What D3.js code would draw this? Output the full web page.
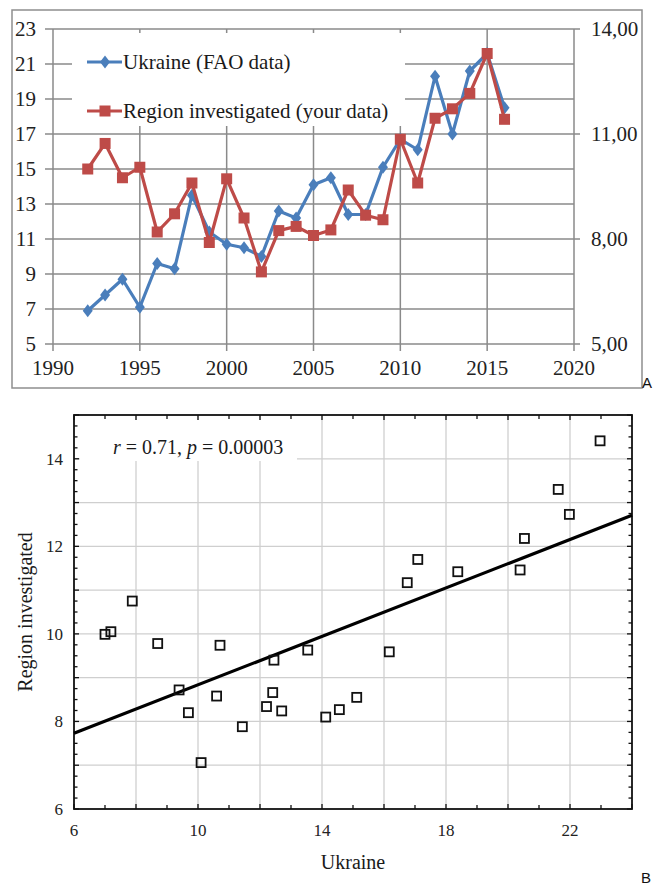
<!DOCTYPE html>
<html><head><meta charset="utf-8">
<script src="https://cdn.jsdelivr.net/npm/d3@7/dist/d3.min.js"></script>
<style>body{margin:0;background:#fff} svg{display:block}</style>
</head><body>
<svg id="c" width="653" height="885"></svg>
<script>
// ---------- Top chart data ----------
const years   = [1992,1993,1994,1995,1996,1997,1998,1999,2000,2001,2002,2003,2004,2005,2006,2007,2008,2009,2010,2011,2012,2013,2014,2015,2016];
const ukraine = [6.9,7.8,8.7,7.1,9.6,9.3,13.5,11.4,10.7,10.5,10.0,12.6,12.2,14.1,14.5,12.4,12.4,15.1,16.7,16.1,20.3,17.0,20.6,21.6,18.5];
const region  = [10.0,10.73,9.75,10.05,8.2,8.72,9.6,7.9,9.72,8.6,7.06,8.24,8.36,8.1,8.26,9.4,8.68,8.55,10.85,9.6,11.45,11.72,12.16,13.3,11.42];
const leftTicks  = [5,7,9,11,13,15,17,19,21,23];
const rightTicks = [5,8,11,14];
const rightTickLabels = ["5,00","8,00","11,00","14,00"];
const yearTicks = [1990,1995,2000,2005,2010,2015,2020];
const legendLabels = ["Ukraine (FAO data)","Region investigated (your data)"];

// ---------- Bottom chart data ----------
const scatterX = [7.0,7.19,7.88,8.7,10.71,9.39,9.69,10.6,10.1,11.43,12.45,12.41,12.21,12.7,13.54,14.12,14.56,15.12,16.17,16.75,17.09,18.38,20.39,20.53,21.62,21.98,22.97];
const scatterY = [9.99,10.05,10.75,9.78,9.74,8.72,8.2,8.58,7.06,7.88,9.4,8.66,8.34,8.24,9.63,8.1,8.27,8.55,9.59,11.17,11.7,11.42,11.46,12.18,13.3,12.73,14.41];
const fitIntercept = 6.07;
const fitSlope = 0.2767;
const sxTicks = [6,10,14,18,22];
const syTicks = [6,8,10,12,14];
const statText = ["r", " = 0.71, ", "p", " = 0.00003"];

const serif = "'Liberation Serif','Times New Roman',serif";
const svg = d3.select("#c");
const blue = "#4a7ebb", red = "#be4b48", grid = "#8a8a8a";

// ================= TOP CHART =================
const T = svg.append("g");
T.append("rect").attr("x",12).attr("y",10).attr("width",630).attr("height",378)
  .attr("fill","#fff").attr("stroke","#8e8e8e").attr("stroke-width",1.5);

const x = d3.scaleLinear().domain([1990,2020]).range([53,574]);
const yL = d3.scaleLinear().domain([5,23]).range([344,29]);
const yR = d3.scaleLinear().domain([5,14]).range([344,29]);

T.append("g").selectAll("line").data(leftTicks).join("line")
  .attr("x1",45).attr("x2",574).attr("y1",d=>yL(d)).attr("y2",d=>yL(d))
  .attr("stroke",grid).attr("stroke-width",1.5);
T.append("g").selectAll("line").data(rightTicks).join("line")
  .attr("x1",574).attr("x2",580).attr("y1",d=>yR(d)).attr("y2",d=>yR(d))
  .attr("stroke",grid).attr("stroke-width",1.5);
T.append("g").selectAll("line").data(yearTicks).join("line")
  .attr("x1",d=>x(d)).attr("x2",d=>x(d)).attr("y1",29).attr("y2",351)
  .attr("stroke",grid).attr("stroke-width",1.5);

T.append("g").selectAll("text").data(leftTicks).join("text")
  .attr("x",36).attr("y",d=>yL(d)).attr("dy","0.35em").attr("text-anchor","end")
  .attr("font-family",serif).attr("font-size",21).attr("fill","#222").text(d=>d);
T.append("g").selectAll("text").data(rightTicks).join("text")
  .attr("x",591).attr("y",d=>yR(d)).attr("dy","0.35em")
  .attr("font-family",serif).attr("font-size",21).attr("fill","#222").text((d,i)=>rightTickLabels[i]);
T.append("g").selectAll("text").data(yearTicks).join("text")
  .attr("x",d=>x(d)).attr("y",375).attr("text-anchor","middle")
  .attr("font-family",serif).attr("font-size",21).attr("fill","#222").text(d=>d);

T.append("rect").attr("x",72).attr("y",33).attr("width",333).attr("height",93).attr("fill","#fff");

const diamond = (cx,cy)=>`M${cx},${cy-6.5}L${cx+5},${cy}L${cx},${cy+6.5}L${cx-5},${cy}Z`;
const line = (arr,ys)=>d3.line().x((d,i)=>x(years[i])).y(d=>ys(d))(arr);

T.append("path").attr("d",line(ukraine,yL)).attr("fill","none").attr("stroke",blue).attr("stroke-width",3.2).attr("stroke-linejoin","round");
T.append("g").selectAll("path").data(ukraine).join("path")
  .attr("d",(d,i)=>diamond(x(years[i]),yL(d))).attr("fill",blue);
T.append("path").attr("d",line(region,yR)).attr("fill","none").attr("stroke",red).attr("stroke-width",3.2).attr("stroke-linejoin","round");
T.append("g").selectAll("rect").data(region).join("rect")
  .attr("x",(d,i)=>x(years[i])-5.5).attr("y",d=>yR(d)-5.5).attr("width",11).attr("height",11).attr("fill",red);

const legY = [62,111];
const legCol = [blue, red];
legendLabels.forEach((lab,i)=>{
  T.append("line").attr("x1",87).attr("x2",122).attr("y1",legY[i]).attr("y2",legY[i]).attr("stroke",legCol[i]).attr("stroke-width",3.2);
  if(i===0) T.append("path").attr("d",diamond(105,legY[i])).attr("fill",blue);
  else T.append("rect").attr("x",99.5).attr("y",legY[i]-5.5).attr("width",11).attr("height",11).attr("fill",red);
  T.append("text").attr("x",123).attr("y",legY[i]).attr("dy","0.35em")
    .attr("font-family",serif).attr("font-size",21).attr("fill","#1a1a1a").text(lab);
});
svg.append("text").attr("x",642).attr("y",388).attr("font-family","'Liberation Sans',Arial,sans-serif").attr("font-size",15).attr("fill","#111").text("A");

// ================= BOTTOM CHART =================
const B = svg.append("g");
const sx = d3.scaleLinear().domain([6,24]).range([74,632]);
const sy = d3.scaleLinear().domain([6,15]).range([809,415]);
const lg = "#cfcfcf";
B.append("g").selectAll("line").data(d3.range(8,24,2)).join("line")
  .attr("x1",d=>sx(d)).attr("x2",d=>sx(d)).attr("y1",415).attr("y2",809).attr("stroke",lg).attr("stroke-width",1.3);
B.append("g").selectAll("line").data(d3.range(7,15,1)).join("line")
  .attr("y1",d=>sy(d)).attr("y2",d=>sy(d)).attr("x1",74).attr("x2",632).attr("stroke",lg).attr("stroke-width",1.3);

B.append("rect").attr("x",80).attr("y",420).attr("width",217).attr("height",41).attr("fill","#fff");
const st = B.append("text").attr("x",113).attr("y",447).attr("dy","0.35em")
  .attr("font-family",serif).attr("font-size",20).attr("fill","#1a1a1a");
statText.forEach((s,i)=>st.append("tspan").attr("font-style", i%2===0?"italic":"normal").text(s));

const ticksG = B.append("g").attr("stroke","#111").attr("stroke-width",1.3);
d3.range(6,24.01,1).forEach(v=>{
  const len = (v%2===0)?5:4;
  ticksG.append("line").attr("x1",sx(v)).attr("x2",sx(v)).attr("y1",809).attr("y2",809-len);
  ticksG.append("line").attr("x1",sx(v)).attr("x2",sx(v)).attr("y1",415).attr("y2",415+len);
});
d3.range(6,15.01,0.25).forEach(v=>{
  const len = (Math.abs(v-Math.round(v))<1e-9)?5:3.5;
  ticksG.append("line").attr("x1",74).attr("x2",74+len).attr("y1",sy(v)).attr("y2",sy(v));
  ticksG.append("line").attr("x1",632).attr("x2",632-len).attr("y1",sy(v)).attr("y2",sy(v));
});
B.append("rect").attr("x",74).attr("y",415).attr("width",558).attr("height",394)
  .attr("fill","none").attr("stroke","#111").attr("stroke-width",1.8);

B.append("line").attr("x1",sx(6)).attr("y1",sy(fitIntercept+fitSlope*6))
  .attr("x2",sx(24)).attr("y2",sy(fitIntercept+fitSlope*24))
  .attr("stroke","#000").attr("stroke-width",3.2);

B.append("g").selectAll("rect").data(scatterX).join("rect")
  .attr("x",(d)=>sx(d)-4.5).attr("y",(d,i)=>sy(scatterY[i])-4.5).attr("width",9).attr("height",9)
  .attr("fill","none").attr("stroke","#111").attr("stroke-width",1.8);

B.append("g").selectAll("text").data(sxTicks).join("text")
  .attr("x",d=>sx(d)).attr("y",836).attr("text-anchor","middle")
  .attr("font-family",serif).attr("font-size",17).attr("fill","#222").text(d=>d);
B.append("g").selectAll("text").data(syTicks).join("text")
  .attr("x",63).attr("y",d=>sy(d)).attr("dy","0.35em").attr("text-anchor","end")
  .attr("font-family",serif).attr("font-size",17).attr("fill","#222").text(d=>d);
B.append("text").attr("x",353).attr("y",869).attr("text-anchor","middle")
  .attr("font-family",serif).attr("font-size",20).attr("fill","#1a1a1a").text("Ukraine");
B.append("text").attr("transform","translate(32,612) rotate(-90)").attr("text-anchor","middle")
  .attr("font-family",serif).attr("font-size",20).attr("fill","#1a1a1a").text("Region investigated");
svg.append("text").attr("x",641).attr("y",883).attr("font-family","'Liberation Sans',Arial,sans-serif").attr("font-size",15).attr("fill","#111").text("B");
</script>
</body></html>
